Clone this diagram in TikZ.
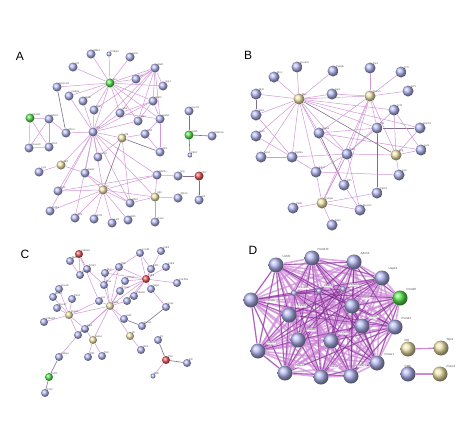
\documentclass[tikz,border=0pt]{standalone}
\usepackage{fontspec}
\setmainfont{Liberation Sans}
\definecolor{nblue}{RGB}{178,182,240}
\definecolor{nyel}{RGB}{240,228,172}
\definecolor{ngrn}{RGB}{85,230,75}
\definecolor{nred}{RGB}{235,85,85}
\definecolor{epink}{RGB}{210,150,215}
\definecolor{egray}{RGB}{130,110,140}
\definecolor{dlight}{RGB}{205,135,215}
\definecolor{ddark}{RGB}{120,40,135}
\pgfdeclarelayer{bg}
\pgfsetlayers{bg,main}
\newcommand\nd[4]{\node[#3] (#1) at (#2) {};\node[lab,anchor=south west] (#1t) at ([shift={(-1.2,1.2)}]#1.north east) {#4};}
\newcommand\ed[3][ea]{\foreach \tg in {#3}{\draw[#1] (#2) -- (\tg);}}
\begin{document}
\begin{tikzpicture}[x=1pt,y=-1pt,
  ball/.style={circle,inner sep=0pt,draw=none},
  bl/.style={ball,ball color=nblue},
  yl/.style={ball,ball color=nyel},
  gr/.style={ball,ball color=ngrn},
  rd/.style={ball,ball color=nred},
  sa/.style={minimum size=9pt},
  sb/.style={minimum size=11pt},
  sc/.style={minimum size=8pt},
  sd/.style={minimum size=15pt},
  ss/.style={minimum size=5pt},
  lab/.style={font=\fontsize{2.6}{3}\selectfont,text=black!65,inner sep=0.2pt},
  dlab/.style={font=\fontsize{3}{3.5}\selectfont,text=black!70,inner sep=0.4pt},
  boxlab/.style={font=\fontsize{2.6}{3}\selectfont,text=black!70,fill=white,fill opacity=0.85,text opacity=1,rounded corners=0.5pt,inner sep=0.6pt},
  ea/.style={draw=epink,line width=0.5pt},
  eg/.style={draw=egray,line width=0.6pt},
  panel/.style={font=\fontsize{12}{14}\selectfont}]
\useasboundingbox (0,0) rectangle (474,426);
\node[panel] (LA) at (20,56) {A};
\node[panel] (LB) at (248,55) {B};
\node[panel] (LC) at (25,254) {C};
\node[panel] (LD) at (253,250) {D};
% ---------------- Panel A
\nd{a1}{91,54}{bl,sa}{Nfkb1}
\nd{a2}{109,54}{bl,ss}{Tnfaip3}
\nd{a3}{130,57}{bl,sa}{Rela}
\nd{a4}{73,67}{bl,sa}{Irf1}
\nd{a5}{155,68}{bl,sa}{Stat1}
\nd{a6}{110,83}{gr,sa}{Jun}
\nd{a7}{136,79}{bl,sa}{Fos}
\nd{a8}{163,86}{bl,sa}{Egr1}
\nd{a9}{57,87}{bl,sa}{Runx1t1}
\nd{a10}{69,96}{bl,sa}{Cebpa}
\nd{a11}{83,101}{bl,sa}{Ikzf1}
\nd{a12}{153,101}{bl,sa}{Stat3}
\nd{a13}{94,110}{bl,sa}{Ets1}
\nd{a14}{120,113}{bl,sa}{Myb}
\nd{a15}{138,121}{bl,sa}{Spi1}
\nd{a16}{160,119}{bl,sa}{Gata1}
\nd{a17}{189,111}{bl,sa}{Ccnd1}
\nd{a18}{30,118}{gr,sa}{Hoxa9}
\nd{a19}{49,119}{bl,sa}{Meis1}
\nd{a20}{66,133}{bl,sa}{Pbx3}
\nd{a21}{93,132}{bl,sa}{Myc}
\nd{a22}{122,138}{yl,sa}{Irf8}
\nd{a23}{145,134}{bl,sa}{Klf4}
\nd{a24}{189,135}{gr,sa}{Cdk6}
\nd{a25}{212,136}{bl,sa}{Cdkn1a}
\nd{a26}{29,148}{bl,sa}{Hoxa10}
\nd{a27}{49,147}{bl,sa}{Pbx1}
\nd{a28}{160,152}{bl,sa}{Gfi1}
\nd{a29}{190,155}{bl,ss}{Cdk4}
\nd{a30}{98,157}{bl,sa}{Lmo2}
\nd{a31}{61,165}{yl,sa}{Tal1}
\nd{a32}{39,172}{bl,sa}{Lyl1}
\nd{a33}{85,173}{bl,sa}{Gata2}
\nd{a34}{157,175}{bl,sa}{Mef2c}
\nd{a35}{178,176}{bl,sa}{Erg}
\nd{a36}{199,176}{rd,sa}{Flt3}
\nd{a37}{58,191}{bl,sa}{Bcl2}
\nd{a38}{103,190}{yl,sa}{Kit}
\nd{a39}{155,197}{yl,sa}{Mpl}
\nd{a40}{178,198}{bl,sa}{Zfpm1}
\nd{a41}{130,203}{bl,sa}{Nfe2}
\nd{a42}{199,200}{bl,sa}{Kitl}
\nd{a43}{50,211}{bl,sa}{Cd34}
\nd{a44}{75,218}{bl,sa}{Tcf3}
\nd{a45}{94,219}{bl,sa}{Ikzf3}
\nd{a46}{112,223}{bl,sa}{Lef1}
\nd{a47}{128,220}{bl,sa}{Ebf1}
\nd{a48}{155,222}{bl,sa}{Pax5}
% ---------------- Panel B
\nd{b1}{297,67}{bl,sb}{Hoxa10}
\nd{b2}{274,77}{bl,sb}{Mn1}
\nd{b3}{333,71}{bl,sb}{Cebpb}
\nd{b4}{370,68}{bl,sb}{Tal1}
\nd{b5}{401,72}{bl,sb}{Tcf7}
\nd{b6}{256,94}{bl,sb}{Myb}
\nd{b7}{299,99}{yl,sb}{Myc}
\nd{b8}{332,94}{bl,sb}{Spi1}
\nd{b9}{370,96}{yl,sb}{Runx1}
\nd{b10}{408,91}{bl,sb}{Gfi1}
\nd{b11}{394,110}{bl,sb}{Tcf4}
\nd{b12}{256,115}{bl,sb}{Ets1}
\nd{b13}{377,128}{bl,sb}{Irf8}
\nd{b14}{420,128}{bl,sb}{Notch1}
\nd{b15}{256,136}{bl,sb}{Ikzf1}
\nd{b16}{319,133}{bl,sb}{Gata2}
\nd{b17}{421,150}{bl,sb}{Lef1}
\nd{b18}{261,157}{bl,sb}{Sox4}
\nd{b19}{292,157}{bl,sb}{Stat5a}
\nd{b20}{347,154}{bl,sb}{Fli1}
\nd{b21}{396,155}{yl,sb}{Erg}
\nd{b22}{316,172}{bl,sb}{Egr2}
\nd{b23}{399,175}{bl,sb}{Lyl1}
\nd{b24}{344,185}{bl,sb}{Klf1}
\nd{b25}{377,193}{bl,sb}{Zfpm1}
\nd{b26}{293,208}{bl,sb}{Zeb2}
\nd{b27}{322,203}{yl,sb}{Cebpa}
\nd{b28}{360,210}{bl,sb}{Mecom}
\nd{b29}{332,225}{bl,sb}{Nfe2}
% ---------------- Panel C
\nd{c1}{79,254}{rd,sc}{Cdkn2a}
\nd{c2}{140,253}{bl,sc}{Ccnd1}
\nd{c3}{161,251}{bl,sc}{Cdk4}
\nd{c4}{70,261}{bl,sc}{Mdm2}
\nd{c5}{87,269}{bl,sc}{Trp53}
\nd{c6}{119,267}{bl,sc}{Rb1}
\nd{c7}{151,269}{bl,sc}{E2f1}
\nd{c8}{166,267}{bl,sc}{Cdk6}
\nd{c9}{80,275}{bl,sc}{Cdkn1a}
\nd{c10}{105,273}{bl,sc}{Myc}
\nd{c11}{125,281}{bl,sc}{Ccne1}
\nd{c12}{146,279}{rd,sc}{Cdk2}
\nd{c13}{177,283}{bl,sc}{Cdc25a}
\nd{c14}{104,285}{bl,sc}{Max}
\nd{c15}{59,289}{bl,sc}{Hoxa9}
\nd{c16}{151,289}{bl,sc}{Skp2}
\nd{c17}{120,291}{bl,sc}{Ccna2}
\nd{c18}{134,296}{bl,sc}{Cdkn1b}
\nd{c19}{53,297}{bl,sc}{Meis1}
\nd{c20}{72,299}{bl,sc}{Pbx3}
\nd{c21}{99,301}{bl,sc}{Jun}
\nd{c22}{127,301}{bl,sc}{Fos}
\nd{c23}{110,306}{yl,sc}{Stat3}
\nd{c24}{57,308}{bl,sc}{Hoxa7}
\nd{c25}{166,307}{bl,sc}{Cul1}
\nd{c26}{69,315}{yl,sc}{Runx1}
\nd{c27}{124,319}{bl,sc}{Jak2}
\nd{c28}{44,322}{bl,sc}{Cbfa2t3}
\nd{c29}{142,326}{bl,sc}{Socs3}
\nd{c30}{85,329}{bl,sc}{Spi1}
\nd{c31}{78,335}{bl,sc}{Cebpa}
\nd{c32}{130,336}{yl,sc}{Il6}
\nd{c33}{93,340}{yl,sc}{Gata1}
\nd{c34}{158,340}{bl,sc}{Kit}
\nd{c35}{141,350}{bl,sc}{Il6ra}
\nd{c36}{59,357}{bl,sc}{Cebpe}
\nd{c37}{88,357}{bl,sc}{Klf1}
\nd{c38}{102,356}{bl,sc}{Tal1}
\nd{c39}{166,360}{rd,sc}{Flt3}
\nd{c40}{187,363}{bl,sc}{Kitl}
\nd{c41}{153,376}{bl,ss}{Flt3l}
\nd{c42}{49,377}{gr,sc}{Csf3r}
\nd{c43}{45,393}{bl,sc}{Csf3}
% ---------------- Panel D
\nd{d1}{276,265}{bl,sd}{}
\nd{d2}{312,258}{bl,sd}{}
\nd{d3}{354,262}{bl,sd}{}
\nd{d4}{382,278}{bl,sd}{}
\nd{d5}{400,298}{gr,sd}{}
\nd{d6}{251,300}{bl,sd}{}
\nd{d7}{294,293}{bl,minimum size=6pt}{}
\nd{d8}{319,291}{bl,minimum size=6pt}{}
\nd{d9}{343,289}{bl,minimum size=6pt}{}
\nd{d10}{352,306}{bl,sd}{}
\nd{d11}{289,315}{bl,sd}{}
\nd{d12}{362,326}{bl,sd}{}
\nd{d13}{395,327}{bl,sd}{}
\nd{d14}{298,340}{bl,sd}{}
\nd{d15}{331,341}{bl,sd}{}
\nd{d16}{258,351}{bl,sd}{}
\nd{d17}{377,363}{bl,sd}{}
\nd{d18}{285,373}{bl,sd}{}
\nd{d19}{321,377}{bl,sd}{}
\nd{d20}{351,376}{bl,sd}{}
\nd{d21}{408,349}{yl,sd}{}
\nd{d22}{441,348}{yl,sd}{}
\nd{d23}{408,374}{bl,sd}{}
\nd{d24}{440,374}{yl,sd}{}
\node[dlab,anchor=south west] (t1) at (282,258) {Uchl5};
\node[dlab,anchor=south west] (t2) at (317,251) {Psmd13};
\node[dlab,anchor=south west] (t3) at (360,255) {Adrm1};
\node[dlab,anchor=south west] (t4) at (388,271) {Usp14};
\node[dlab,anchor=south west] (t5) at (406,291) {Psmd8};
\node[dlab,anchor=south west] (t13) at (401,320) {Psmd4};
\node[dlab,anchor=south west] (t17) at (384,356) {Psme1};
\node[dlab,anchor=south west] (t21) at (404,342) {Irf8};
\node[dlab,anchor=south west] (t22) at (446,342) {Sfpi1};
\node[dlab,anchor=south west] (t23) at (404,368) {Cbfb};
\node[dlab,anchor=south west] (t24) at (446,368) {Runx1};
\node[boxlab] (q6) at (271,301) {Psmd11};
\node[boxlab] (q7) at (304,288) {Psmd12};
\node[boxlab] (q8) at (328,286) {Psmc3};
\node[boxlab] (q9) at (354,285) {Psmd14};
\node[boxlab] (q10) at (366,298) {Psmd7};
\node[boxlab] (q11) at (302,306) {Psmc4};
\node[boxlab] (q12) at (373,317) {Psmd1};
\node[boxlab] (q14) at (311,330) {Psmd2};
\node[boxlab] (q15) at (344,333) {Psmc2};
\node[boxlab] (q16) at (271,343) {Psmc5};
\node[boxlab] (q18) at (299,366) {Psmc6};
\node[boxlab] (q19) at (334,367) {Psmd3};
\node[boxlab] (q20) at (362,366) {Psmc1};
% ================= edges
\begin{pgfonlayer}{bg}
% A
\ed{a6}{a1,a2,a3,a4,a5,a7,a8,a9,a10,a11,a12,a13,a14,a15,a16,a21}
\ed{a5}{a7,a8,a12,a14,a15,a13,a21,a16}
\ed{a12}{a16,a15,a14}
\ed{a16}{a28,a14,a23}
\ed[eg]{a9}{a20}
\ed{a18}{a19,a26,a27}
\ed{a19}{a26,a27,a20}
\ed{a26}{a27}
\ed{a21}{a10,a11,a13,a14,a15,a20,a22,a30,a31,a33,a37,a38,a41,a43,a44,a34,a39,a12}
\ed[eg]{a22}{a38,a28}
\ed{a22}{a23,a30,a41}
\ed{a23}{a28}
\ed{a31}{a32,a33}
\ed{a33}{a38,a41}
\ed{a34}{a35,a39,a37,a38}
\ed[eg]{a35}{a36}
\ed[eg]{a36}{a42}
\ed{a39}{a40,a48,a38,a41}
\ed{a38}{a37,a43,a44,a45,a46,a47,a41}
\ed[eg]{a24}{a17,a25,a29}
% B
\ed{b7}{b1,b2,b6,b12,b3,b8,b9,b19,b16,b22,b20,b13,b14,b11,b18,b24,b15}
\ed[eg]{b7}{b21}
\ed{b9}{b4,b5,b10,b8,b16,b20,b13,b24,b27,b21}
\ed[eg]{b6}{b12}
\ed{b12}{b19}
\ed{b19}{b15,b18,b22,b20}
\ed[eg]{b16}{b24}
\ed{b16}{b20,b13,b17}
\ed{b20}{b21,b13,b27,b28,b22,b11}
\ed[eg]{b13}{b25,b14}
\ed{b11}{b21,b17}
\ed{b21}{b23,b17,b14}
\ed{b22}{b23}
\ed{b25}{b27}
\ed{b27}{b26,b29,b28,b22,b20}
\ed{b28}{b24}
% C
\ed{c1}{c4,c9,c5,c21}
\ed{c4}{c9}
\ed{c5}{c9,c14}
\ed{c12}{c2,c3,c6,c7,c8,c11,c13,c16,c17,c18,c22,c10}
\ed{c2}{c6,c7}
\ed{c6}{c14,c10}
\ed{c10}{c14}
\ed{c23}{c14,c21,c22,c17,c11,c6,c10,c26,c27,c30,c31,c33,c32,c12}
\ed{c26}{c15,c19,c20,c24,c28,c21,c31,c30}
\ed{c25}{c16}
\ed[eg]{c25}{c29}
\ed[eg]{c29}{c27}
\ed{c31}{c36}
\ed[eg]{c36}{c42}
\ed[eg]{c42}{c43}
\ed{c33}{c37,c38,c30}
\ed{c32}{c35}
\ed[eg]{c39}{c34,c40}
\ed{c39}{c41}
% D
\foreach \i in {1,...,20}{
  \foreach \j in {\i,...,20}{
    \ifnum\j>\i
      \draw[dlight,line width=1.6pt,opacity=0.7] (d\i) -- (d\j);
    \fi
  }
}
\foreach \i in {1,...,20}{
  \foreach \j in {\i,...,20}{
    \ifnum\j>\i
      \pgfmathtruncatemacro\rr{mod(\i*7+\j*13,5)}
      \ifnum\rr<2
        \draw[ddark,line width=0.55pt,opacity=0.75] (d\i) -- (d\j);
      \fi
    \fi
  }
}
\draw[dlight,line width=1.3pt] (d21) -- (d22);
\draw[dlight,line width=1.3pt] (d23) -- (d24);
\end{pgfonlayer}
\end{tikzpicture}
\end{document}
